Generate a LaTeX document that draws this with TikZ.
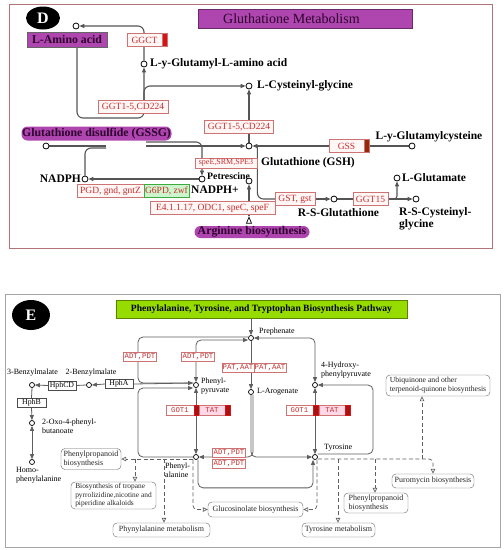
\documentclass[tikz,border=0pt]{standalone}
\usepackage{fontspec}
\setmainfont{Liberation Serif}
\newfontfamily\enzmono{Liberation Mono}
\usetikzlibrary{arrows.meta,calc,shapes.geometric}
\definecolor{dborder}{RGB}{180,115,120}
\definecolor{purp}{RGB}{175,70,175}
\definecolor{purptext}{RGB}{45,0,45}
\definecolor{enzred}{RGB}{200,45,45}
\definecolor{enzline}{RGB}{205,115,115}
\definecolor{enzfill}{RGB}{255,246,246}
\definecolor{barred}{RGB}{215,20,20}
\definecolor{bardark}{RGB}{150,40,10}
\definecolor{gfill}{RGB}{205,245,205}
\definecolor{gline}{RGB}{60,170,60}
\definecolor{lineD}{RGB}{85,85,85}
\definecolor{lineE}{RGB}{95,95,95}
\definecolor{limeg}{RGB}{150,220,0}
\definecolor{eborder}{RGB}{165,165,165}
\definecolor{pinkhl}{RGB}{255,215,230}
\pgfdeclarelayer{bg}
\pgfsetlayers{bg,main}
\begin{document}
\begin{tikzpicture}[x=1pt,y=-1pt,
 ftip/.tip={Triangle[length=5pt,width=4pt]},
 otip/.tip={Triangle[open,length=5pt,width=4.5pt]},
 met/.style={circle,draw=black,fill=white,line width=0.8pt,inner sep=0pt,minimum size=6pt},
 lnD/.style={draw=lineD,line width=1.1pt},
 lnE/.style={draw=lineE,line width=0.8pt},
 dsh/.style={draw=lineE,line width=0.7pt,dash pattern=on 4pt off 2.5pt},
 lblD/.style={font=\fontsize{11.5}{12.5}\selectfont\bfseries,text=black,inner sep=0pt},
 enzD/.style={draw=enzline,fill=enzfill,text=enzred,font=\fontsize{9.5}{10}\selectfont,inner sep=0pt,minimum height=13pt},
 barD/.style={draw=enzline,fill=barred,inner sep=0pt,minimum height=13pt,minimum width=5pt},
 purpbox/.style={fill=purp,text=purptext,font=\fontsize{11.8}{12.5}\selectfont\bfseries,inner sep=0pt},
 lblE/.style={font=\fontsize{8}{8.8}\selectfont,text=black,inner sep=0pt,align=left},
 enzE/.style={draw=enzline,fill=white,text=enzred,font=\enzmono\fontsize{7.3}{8}\selectfont,inner sep=0pt,minimum height=9pt},
 barE/.style={fill=barred!80!black,draw=barred,inner sep=0pt,minimum height=10pt,minimum width=5pt},
 hph/.style={draw=black!70,fill=white,text=black,font=\fontsize{7.8}{8}\selectfont,inner sep=0pt,minimum height=9pt},
 pbox/.style={draw=black!60,rounded corners=4pt,fill=white,text=black!85,font=\fontsize{8}{8.8}\selectfont,inner xsep=1.5pt,inner ysep=1pt,align=left},
]
\useasboundingbox (0,0) rectangle (504,550);
\begin{pgfonlayer}{bg}
\fill[white] (0,0) rectangle (504,550);
\end{pgfonlayer}
% ================= Panel D =================
\draw[dborder,line width=1pt] (9,4) rectangle (492,248);
\node[ellipse,fill=black,minimum width=34pt,minimum height=23pt,inner sep=0pt,text=white,font=\fontsize{16}{16}\selectfont\bfseries] (dlabel) at (43,18) {D};
\node[fill=purp,draw=purp!60!black,minimum width=214pt,minimum height=19pt,inner sep=0pt] (dtitle) at (305,18.5) {};
\node[anchor=west,font=\fontsize{14}{15}\selectfont,text=purptext,inner sep=0pt] (dtitletxt) at (223,18.5) {Gluthatione Metabolism};
\node[purpbox,draw=black!60,minimum width=80pt,minimum height=15pt] (laa) at (67,39.5) {L-Amino acid};
\node[met] (laac) at (76,26) {};
\node[enzD,minimum width=35pt] (ggct) at (144.5,40) {GGCT};
\node[barD] (ggctbar) at (164.5,40) {};
\node[met] (lyg) at (144,64) {};
\node[lblD,anchor=west] (lygl) at (150,64) {L-y-Glutamyl-L-amino acid};
\node[met] (lcg) at (249,86) {};
\node[lblD,anchor=west] (lcgl) at (257,86) {L-Cysteinyl-glycine};
\node[enzD,minimum width=70pt] (ggt1) at (133,107) {GGT1-5,CD224};
\node[enzD,minimum width=69pt] (ggt2) at (239,127) {GGT1-5,CD224};
\node[purpbox,rounded corners=6pt,minimum width=150pt,minimum height=14pt] (gssg) at (96.5,133.5) {Glutathione disulfide (GSSG)};
\node[met] (gssgc) at (46,146) {};
\node[met] (gsh) at (249,146) {};
\node[lblD,anchor=west] (gshl) at (261,163) {Glutathione (GSH)};
\node[enzD,minimum width=35pt] (gss) at (346.5,146) {GSS};
\node[barD,fill=bardark] (gssbar) at (367,146) {};
\node[met] (lgc) at (412,146) {};
\node[lblD] (lgcl) at (429,137) {L-y-Glutamylcysteine};
\node[enzD,minimum width=62pt,minimum height=10pt,font=\fontsize{8}{8.5}\selectfont] (spe) at (226,163) {speE,SRM,SPE3};
\node[met] (nadph) at (85,179) {};
\node[lblD,anchor=east] (nadphl) at (81,179) {NADPH};
\node[met] (nadp) at (202,179) {};
\node[lblD,anchor=west] (nadpl) at (191,190) {NADPH+};
\node[met] (put) at (249,181) {};
\node[lblD,anchor=west,font=\fontsize{9.8}{10}\selectfont\bfseries] (putl) at (207,176) {Petrescine};
\node[enzD,minimum width=67pt] (pgd) at (110.5,191) {PGD, gnd, gntZ};
\node[enzD,draw=gline,fill=gfill,minimum width=45pt] (g6pd) at (166.5,191) {G6PD, zwf};
\node[enzD,minimum width=125pt] (e41) at (212.5,208) {E4.1.1.17, ODC1, speC, speF};
\node[isosceles triangle,draw=black,fill=white,line width=0.7pt,shape border rotate=90,minimum height=5pt,minimum width=5pt,inner sep=0pt] (argtri) at (249,221.5) {};
\node[purpbox,rounded corners=6pt,minimum width=115pt,minimum height=12pt] (arg) at (252,232) {Arginine biosynthesis};
\node[enzD,minimum width=40pt] (gst) at (295,199) {GST, gst};
\node[met] (rsg) at (334,199) {};
\node[lblD] (rsgl) at (338.5,213) {R-S-Glutathione};
\node[enzD,minimum width=35pt] (ggt15) at (370.5,199) {GGT15};
\node[met] (lglu) at (397,178) {};
\node[lblD,anchor=west] (lglul) at (402,178) {L-Glutamate};
\node[met] (rscg) at (416,199) {};
\node[lblD,anchor=north west,align=left] (rscgl) at (399,207) {R-S-Cysteinyl-\\glycine};
\begin{pgfonlayer}{bg}
\draw[lnD,-ftip,rounded corners=6pt] (lyg.north) |- (laac.east);
\draw[lnD,-ftip,rounded corners=6pt] ($(laa.south)+(10,0)$) |- (144,118) -- (lyg.south);
\draw[lnD,-ftip,rounded corners=6pt] (144,100) |- (lcg.west);
\draw[lnD,-ftip] (gsh.north) -- (lcg.south);
\draw[lnD] (gssgc.east) -- (106,146);
\draw[lnD,-ftip] (146,146) -- (gsh.west);
\draw[lnD,rounded corners=6pt] (106,148) -| (nadph.north);
\draw[lnD,-ftip,rounded corners=6pt] (146,142) -| (nadp.north);
\draw[lnD,-ftip] (nadp.west) -- (nadph.east);
\draw[lnD,-ftip] (argtri.north) -- (put.south);
\draw[lnD,rounded corners=6pt] ($(gsh.east)+(5,0)$) |- (gst.west);
\draw[lnD,-ftip] (gss.west) -- (gsh.east);
\draw[lnD] (gssbar.east) -- (lgc.west);
\draw[lnD,-ftip] (gst.east) -- (rsg.west);
\draw[lnD] (rsg.east) -- (ggt15.west);
\draw[lnD,-ftip,rounded corners=3pt] (ggt15.east) -| (lglu.south);
\draw[lnD,-ftip] (ggt15.east) -- (rscg.west);
\end{pgfonlayer}
% ================= Panel E =================
\draw[eborder,line width=1pt] (5,294) rectangle (500,547);
\node[ellipse,fill=black,minimum width=38pt,minimum height=30pt,inner sep=0pt,text=white,font=\fontsize{16}{16}\selectfont\bfseries] (elabel) at (31,315) {E};
\node[fill=limeg,draw=limeg!60!black,minimum width=291pt,minimum height=18pt,inner sep=0pt,font=\fontsize{9.6}{10}\selectfont\bfseries] (etitle) at (261.5,309) {Phenylalanine, Tyrosine, and Tryptophan Biosynthesis Pathway};
\node[met,line width=0.7pt,minimum size=5pt] (pre) at (251,338) {};
\node[lblE,anchor=west] (prel) at (259,332) {Prephenate};
\node[met,line width=0.7pt,minimum size=5pt] (php) at (196,385) {};
\node[lblE,anchor=north west] (phpl) at (201,378) {Phenyl-\\pyruvate};
\node[met,line width=0.7pt,minimum size=5pt] (aro) at (251,392) {};
\node[lblE,anchor=west] (arol) at (257,392) {L-Arogenate};
\node[met,line width=0.7pt,minimum size=5pt] (hpp) at (315,385) {};
\node[lblE,anchor=north west] (hppl) at (321,362) {4-Hydroxy-\\phenylpyruvate};
\node[met,line width=0.7pt,minimum size=5pt] (phe) at (196,457) {};
\node[lblE,anchor=north west] (phel) at (165,463) {Phenyl-\\alanine};
\node[met,line width=0.7pt,minimum size=5pt] (tyr) at (315,457) {};
\node[lblE,anchor=west] (tyrl) at (324,448) {Tyrosine};
\node[met,line width=0.7pt,minimum size=5pt] (bzm2) at (89,385) {};
\node[lblE] (bzm2l) at (91,373) {2-Benzylmalate};
\node[met,line width=0.7pt,minimum size=5pt] (bzm3) at (32,385) {};
\node[lblE] (bzm3l) at (32.5,373) {3-Benzylmalate};
\node[met,line width=0.7pt,minimum size=5pt] (oxo) at (32,423) {};
\node[lblE,anchor=north west] (oxol) at (42,419) {2-Oxo-4-phenyl-\\butanoate};
\node[met,line width=0.7pt,minimum size=5pt] (hphe) at (32,462) {};
\node[lblE,anchor=north west] (hphel) at (16,467) {Homo-\\phenylalanine};
\node[hph,minimum width=28pt] (hpha) at (119,384) {HphA};
\node[hph,minimum width=28pt] (hphcd) at (62,385.5) {HphCD};
\node[hph,minimum width=29pt] (hphb) at (31.5,403) {HphB};
\node[enzE,minimum width=33pt] (adt1) at (140,357) {ADT,PDT};
\node[enzE,minimum width=33pt] (adt2) at (198,357) {ADT,PDT};
\node[enzE,minimum width=32pt] (pat1) at (238,368) {PAT,AAT};
\node[enzE,minimum width=32pt] (pat2) at (270,368) {PAT,AAT};
\node[enzE,minimum width=33pt] (adt3) at (229,453) {ADT,PDT};
\node[enzE,minimum width=33pt] (adt4) at (229,464) {ADT,PDT};
\node[enzE,minimum width=28pt,minimum height=10pt] (got1a) at (180,410) {GOT1};
\node[barE] (bara1) at (196.5,410) {};
\node[enzE,fill=pinkhl,minimum width=26pt,minimum height=10pt] (tata) at (212,410) {TAT};
\node[barE] (bara2) at (227.5,410) {};
\node[enzE,minimum width=27pt,minimum height=10pt] (got1b) at (299.5,410) {GOT1};
\node[barE] (barb1) at (316,410) {};
\node[enzE,fill=pinkhl,minimum width=26pt,minimum height=10pt] (tatb) at (332,410) {TAT};
\node[barE] (barb2) at (347.5,410) {};
\node[pbox,minimum width=60pt,minimum height=21pt] (pp1) at (91,459) {Phenylpropanoid\\biosynthesis};
\node[pbox,minimum width=85pt,minimum height=27pt,font=\fontsize{7.4}{8.6}\selectfont] (trop) at (113.5,495.5) {Biosynthesis of tropane\\pyrrolizidine,nicotine and\\piperidine alkaloids};
\node[pbox,minimum width=97pt,minimum height=14pt] (phym) at (161.5,530) {Phynylalanine metabolism};
\node[pbox,minimum width=95pt,minimum height=15pt] (gluc) at (255.5,509.5) {Glucosinolate biosynthesis};
\node[pbox,minimum width=73pt,minimum height=14pt] (tyrm) at (338.5,530) {Tyrosine metabolism};
\node[pbox,minimum width=64pt,minimum height=20pt] (pp2) at (376,503) {Phenylpropanoid\\biosynthesis};
\node[pbox,minimum width=82pt,minimum height=14pt] (puro) at (433,481) {Puromycin biosynthesis};
\node[pbox,minimum width=104pt,minimum height=21pt,font=\fontsize{7.7}{8.8}\selectfont] (ubiq) at (438,385.5) {Ubiquinone and other\\terpenoid-quinone biosynthesis};
\coordinate (b1) at (135,459);
\coordinate (b2) at (164,459);
\coordinate (b3) at (338,459);
\coordinate (b4) at (375,459);
\coordinate (b5) at (422,459);
\begin{pgfonlayer}{bg}
\draw[lnE,-ftip] (etitle.south -| pre) -- (pre.north);
\draw[lnE,-ftip,rounded corners=5pt] ($(pre.west)+(0,-1)$) -| (138,360) |- ($(php.west)+(0,-2)$);
\draw[lnE] (hpha.east) -- ($(php.west)+(0,-2)$);
\draw[lnE,ftip-ftip,rounded corners=5pt] (php.north) |- ($(pre.west)+(0,2)$);
\draw[lnE,-ftip] (pre.south) -- (aro.north);
\draw[lnE,ftip-ftip,rounded corners=5pt] (pre.east) -| (hpp.north);
\draw[lnE,ftip-ftip] (php.south) -- (phe.north);
\draw[lnE,ftip-ftip] (hpp.south) -- (tyr.north);
\draw[lnE,-ftip,rounded corners=5pt] ($(tyr.east)+(0,-3)$) -| (373,420) |- (hpp.east);
\draw[lnE,-ftip,rounded corners=5pt] (aro.south) |- (tyr.west);
\draw[lnE,-ftip,rounded corners=5pt] ($(aro.south)+(2,0)$) |- (phe.east);
\draw[lnE,-ftip,rounded corners=5pt] (phe.west) -| (138,420) |- ($(php.west)+(0,3)$);
\draw[lnE,-ftip,rounded corners=5pt] ($(phe.south)+(2,0)$) |- ($(tyr.south)+(-2,28)$) -- ($(tyr.south)+(-2,0)$);
\draw[lnE,-ftip] (hpha.west) -- (bzm2.east);
\draw[lnE] (bzm2.west) -- (hphcd.east);
\draw[lnE,-ftip] (hphcd.west) -- (bzm3.east);
\draw[lnE] (bzm3.south) -- (hphb.north);
\draw[lnE,-ftip] (hphb.south) -- (oxo.north);
\draw[lnE,ftip-ftip] (oxo.south) -- (hphe.north);
\draw[dsh,-otip] ($(phe.west)+(0,2)$) -- (pp1.east);
\draw[dsh,-otip] (b1) -- (b1 |- trop.north);
\draw[dsh,-otip] (b2) -- (b2 |- phym.north);
\draw[dsh,-otip,rounded corners=4pt] ($(phe.south)+(-3,0)$) |- (gluc.west);
\draw[dsh,-otip,rounded corners=4pt] ($(tyr.south)+(2,0)$) |- (gluc.east);
\draw[dsh,-otip,rounded corners=4pt] ($(tyr.east)+(0,2)$) -| (puro.north);
\draw[dsh,-otip] (b3) -- (b3 |- tyrm.north);
\draw[dsh,-otip] (b4) -- (b4 |- pp2.north);
\draw[dsh,-otip] (b5) -- (b5 |- ubiq.south);
\end{pgfonlayer}
\end{tikzpicture}
\end{document}
